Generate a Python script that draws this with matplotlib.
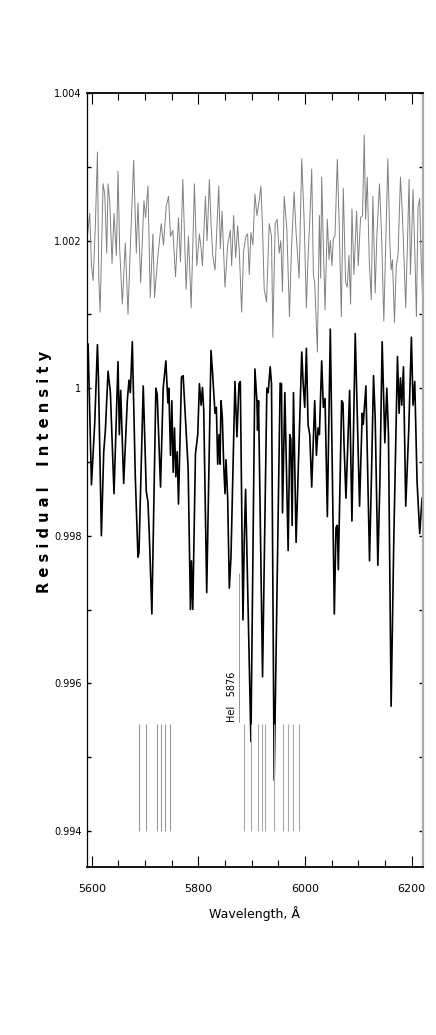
import matplotlib
matplotlib.use("Agg")
import matplotlib.pyplot as plt
from matplotlib.ticker import MultipleLocator, FuncFormatter

# upper (grey) spectrum
wl_grey = [5590.0, 5596.2, 5599.4, 5602.5, 5606.8, 5610.6, 5613.1, 5615.6, 5621.2, 5624.3,
           5628.0, 5630.5, 5633.6, 5638.0, 5641.7, 5646.1, 5649.2, 5652.3, 5657.3, 5662.9,
           5667.9, 5672.3, 5678.5, 5683.5, 5686.6, 5691.6, 5697.8, 5700.9, 5705.3, 5709.6,
           5714.6, 5717.7, 5724.0, 5730.2, 5734.5, 5739.5, 5743.9, 5747.6, 5752.0, 5757.0,
           5762.6, 5766.3, 5770.7, 5776.9, 5781.3, 5786.3, 5792.5, 5796.9, 5801.8, 5805.0,
           5807.5, 5813.1, 5816.2, 5820.5, 5823.6, 5826.8, 5831.1, 5838.0, 5841.1, 5844.2,
           5849.8, 5854.8, 5859.8, 5862.3, 5866.0, 5869.8, 5873.5, 5876.6, 5881.0, 5884.7,
           5889.1, 5892.2, 5895.3, 5898.4, 5902.1, 5905.9, 5909.6, 5914.0, 5917.1, 5920.2,
           5923.3, 5927.7, 5932.7, 5937.0, 5939.5, 5943.9, 5947.6, 5951.4, 5954.5, 5957.6,
           5960.7, 5965.7, 5970.7, 5974.4, 5979.4, 5983.1, 5988.7, 5993.7, 5998.1, 6002.4,
           6005.6, 6008.7, 6012.4, 6015.5, 6018.0, 6023.0, 6026.8, 6029.2, 6031.1, 6034.2,
           6037.4, 6041.7, 6044.8, 6047.3, 6050.4, 6052.9, 6056.0, 6060.4, 6064.1, 6067.9,
           6071.6, 6076.0, 6079.1, 6082.2, 6085.3, 6087.8, 6091.6, 6096.5, 6099.7, 6104.0,
           6107.7, 6110.9, 6113.4, 6116.5, 6120.2, 6124.0, 6127.1, 6131.4, 6134.5, 6139.5,
           6143.3, 6147.6, 6151.4, 6155.1, 6158.8, 6161.3, 6163.8, 6167.6, 6170.7, 6174.4,
           6178.8, 6182.5, 6188.7, 6195.0, 6197.5, 6202.4, 6206.2, 6208.7, 6211.8, 6214.9,
           6217.4, 6220.5]
int_grey = [1.00194, 1.00237, 1.00166, 1.00146, 1.00223, 1.00320, 1.00149, 1.00103, 1.00277, 1.00263,
            1.00183, 1.00277, 1.00254, 1.00169, 1.00237, 1.00180, 1.00294, 1.00189, 1.00114, 1.00197,
            1.00100, 1.00191, 1.00309, 1.00183, 1.00251, 1.00143, 1.00254, 1.00231, 1.00274, 1.00123,
            1.00209, 1.00123, 1.00180, 1.00223, 1.00194, 1.00246, 1.00260, 1.00206, 1.00214, 1.00151,
            1.00231, 1.00171, 1.00283, 1.00134, 1.00206, 1.00109, 1.00277, 1.00166, 1.00209, 1.00189,
            1.00166, 1.00260, 1.00200, 1.00283, 1.00223, 1.00180, 1.00160, 1.00274, 1.00189, 1.00240,
            1.00137, 1.00194, 1.00214, 1.00166, 1.00234, 1.00177, 1.00220, 1.00186, 1.00103, 1.00186,
            1.00206, 1.00209, 1.00154, 1.00211, 1.00194, 1.00263, 1.00234, 1.00254, 1.00274, 1.00217,
            1.00134, 1.00117, 1.00223, 1.00206, 1.00069, 1.00223, 1.00229, 1.00183, 1.00200, 1.00131,
            1.00260, 1.00217, 1.00097, 1.00189, 1.00266, 1.00211, 1.00149, 1.00311, 1.00229, 1.00109,
            1.00180, 1.00226, 1.00297, 1.00154, 1.00143, 1.00049, 1.00234, 1.00149, 1.00286, 1.00194,
            1.00106, 1.00229, 1.00174, 1.00200, 1.00166, 1.00203, 1.00206, 1.00310, 1.00217, 1.00097,
            1.00271, 1.00143, 1.00137, 1.00180, 1.00114, 1.00243, 1.00154, 1.00240, 1.00166, 1.00231,
            1.00234, 1.00343, 1.00229, 1.00286, 1.00174, 1.00120, 1.00260, 1.00129, 1.00206, 1.00277,
            1.00209, 1.00091, 1.00200, 1.00311, 1.00200, 1.00160, 1.00174, 1.00089, 1.00163, 1.00183,
            1.00286, 1.00234, 1.00109, 1.00283, 1.00154, 1.00269, 1.00171, 1.00097, 1.00246, 1.00257,
            1.00180, 1.00120]

# lower (black) spectrum
wl_black = [5590.5, 5593.1, 5599.4, 5605.6, 5610.6, 5612.4, 5618.0, 5622.4, 5625.5, 5630.5,
            5634.9, 5641.7, 5649.2, 5651.7, 5654.2, 5659.8, 5666.6, 5669.8, 5672.3, 5676.0,
            5681.6, 5686.6, 5688.5, 5696.5, 5702.2, 5705.3, 5707.8, 5712.7, 5720.2, 5722.7,
            5728.9, 5733.9, 5738.9, 5742.7, 5744.5, 5747.6, 5750.1, 5752.6, 5755.1, 5757.6,
            5760.1, 5762.6, 5768.2, 5771.3, 5776.9, 5780.7, 5785.0, 5786.9, 5789.4, 5794.4,
            5798.7, 5801.8, 5805.0, 5807.5, 5809.9, 5815.5, 5823.6, 5826.8, 5831.1, 5833.6,
            5836.1, 5838.6, 5840.5, 5842.3, 5844.8, 5847.3, 5849.8, 5851.7, 5854.8, 5857.9,
            5861.0, 5868.5, 5872.2, 5876.0, 5878.5, 5883.5, 5885.9, 5888.4, 5898.4, 5905.9,
            5909.6, 5910.9, 5912.7, 5920.2, 5928.3, 5930.8, 5934.5, 5937.0, 5942.0, 5953.2,
            5955.7, 5957.6, 5962.0, 5968.2, 5971.3, 5973.2, 5975.7, 5978.2, 5983.1, 5988.1,
            5993.7, 5996.2, 5999.3, 6002.4, 6005.6, 6008.7, 6012.4, 6018.0, 6021.2, 6024.3,
            6026.8, 6031.1, 6034.2, 6037.4, 6041.7, 6047.3, 6054.8, 6057.9, 6060.4, 6062.3,
            6068.5, 6071.0, 6072.9, 6076.6, 6083.5, 6087.8, 6094.0, 6102.1, 6107.1, 6109.0,
            6114.0, 6120.8, 6124.6, 6128.3, 6131.4, 6136.4, 6140.1, 6144.5, 6149.5, 6153.2,
            6156.3, 6161.3, 6166.3, 6173.2, 6176.3, 6178.8, 6181.3, 6184.4, 6188.7, 6194.3,
            6199.3, 6202.4, 6205.6, 6209.9, 6214.9, 6219.3]
int_black = [0.99983, 1.00060, 0.99869, 0.99954, 1.00059, 1.00017, 0.99800, 0.99914, 0.99943, 1.00023,
             0.99994, 0.99857, 1.00036, 0.99937, 0.99997, 0.99871, 0.99983, 1.00011, 0.99994, 1.00063,
             0.99880, 0.99771, 0.99777, 1.00003, 0.99860, 0.99846, 0.99803, 0.99694, 1.00000, 0.99991,
             0.99866, 1.00000, 1.00037, 0.99980, 1.00000, 0.99909, 0.99983, 0.99886, 0.99946, 0.99880,
             0.99914, 0.99843, 1.00015, 1.00017, 0.99943, 0.99891, 0.99700, 0.99766, 0.99700, 0.99911,
             0.99937, 1.00006, 0.99977, 1.00001, 0.99971, 0.99723, 1.00051, 1.00017, 0.99966, 0.99974,
             0.99897, 0.99937, 0.99897, 0.99983, 0.99960, 0.99897, 0.99857, 0.99903, 0.99851, 0.99729,
             0.99771, 1.00009, 0.99934, 1.00006, 1.00009, 0.99686, 0.99794, 0.99863, 0.99521, 1.00026,
             0.99983, 0.99943, 0.99983, 0.99609, 1.00000, 0.99994, 1.00029, 1.00006, 0.99469, 1.00007,
             1.00006, 0.99831, 0.99994, 0.99780, 0.99937, 0.99931, 0.99814, 0.99994, 0.99791, 0.99911,
             1.00049, 1.00009, 0.99974, 1.00054, 0.99950, 0.99937, 0.99866, 0.99983, 0.99909, 0.99946,
             0.99937, 1.00037, 0.99974, 0.99986, 0.99826, 1.00080, 0.99694, 0.99811, 0.99814, 0.99754,
             0.99983, 0.99980, 0.99926, 0.99851, 0.99997, 0.99820, 1.00074, 0.99840, 0.99966, 0.99951,
             1.00003, 0.99766, 0.99886, 1.00017, 0.99960, 0.99760, 0.99869, 1.00063, 0.99926, 1.00000,
             0.99937, 0.99569, 0.99794, 1.00043, 0.99966, 1.00014, 0.99977, 1.00029, 0.99840, 0.99943,
             1.00069, 0.99977, 1.00009, 0.99874, 0.99803, 0.99851]

# line marks
marks_left = [5688, 5701.5, 5722, 5729.5, 5737, 5746]
marks_right = [5884.7, 5898.5, 5911.6, 5918.3, 5924.7, 5942.6, 5958.3, 5967, 5977.6, 5988.8]
hei_wl = 5875.3
hei_label = "HeI   5876"

fig = plt.figure(figsize=(4.36, 10.35), dpi=100)
ax = fig.add_axes([0.1995, 0.1623, 0.7706, 0.7478])

ax.plot(wl_grey, int_grey, color='#808080', lw=0.7)
ax.plot(wl_black, int_black, color='black', lw=1.2)

ax.vlines(marks_left, 0.994, 0.99545, color='#999999', lw=0.8)
ax.vlines(marks_right, 0.994, 0.99545, color='#aaaaaa', lw=0.8)
ax.vlines(hei_wl, 0.99548, 0.99750, color='#999999', lw=0.7)
ax.text(hei_wl - 12, 0.99548, hei_label, rotation=90, ha='center', va='bottom', fontsize=7)

ax.set_xlim(5591, 6221)
ax.set_ylim(0.99351, 1.004)

ax.xaxis.set_major_locator(MultipleLocator(200))
ax.xaxis.set_minor_locator(MultipleLocator(50))
ax.yaxis.set_major_locator(MultipleLocator(0.002))
ax.yaxis.set_minor_locator(MultipleLocator(0.001))
ax.yaxis.set_major_formatter(FuncFormatter(lambda v, p: f"{v:g}"))

ax.tick_params(axis='x', which='major', direction='in', length=8, width=0.8, top=True, labelsize=8, pad=12)
ax.tick_params(axis='x', which='minor', direction='in', length=5, width=0.8, top=True)
ax.tick_params(axis='y', which='both', direction='in', length=3, width=1.0, right=True, labelsize=7, pad=4)

ax.spines['top'].set_linewidth(1.3)
ax.spines['bottom'].set_linewidth(1.3)
ax.spines['left'].set_linewidth(0.9)
ax.spines['right'].set_linewidth(1.6)
ax.spines['right'].set_color('#aaaaaa')

ax.set_xlabel("Wavelength, Å", fontsize=9, labelpad=9)
ax.set_ylabel("R e s i d u a l    I n t e n s i t y", fontsize=10.5, fontweight='bold')
ax.yaxis.set_label_coords(-0.105, 0.51)

fig.savefig("out.png", dpi=100)
